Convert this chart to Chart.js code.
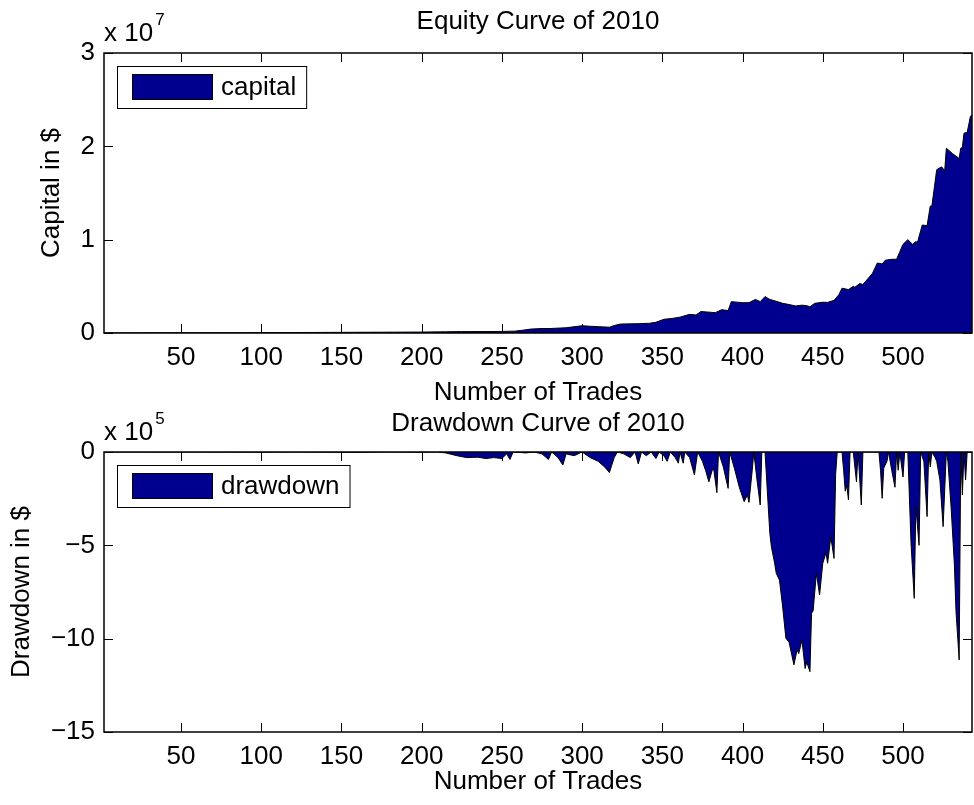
<!DOCTYPE html>
<html>
<head>
<meta charset="utf-8">
<script src="https://cdn.jsdelivr.net/npm/chart.js@4.4.1/dist/chart.umd.min.js"></script>
<style>
  body { margin: 0; background: #fff; }
  #wrap { position: relative; width: 974px; height: 805px; }
  canvas { position: absolute; left: 0; }
</style>
</head>
<body>
<div id="wrap">
  <canvas id="equity" width="974" height="420" style="top:0"></canvas>
  <canvas id="drawdown" width="974" height="405" style="top:400px"></canvas>
</div>
<script>
// trade number -> capital in $
const capTrades = [2, 30, 60, 90, 120, 150, 175, 200, 215, 225, 240, 250, 258, 263, 268, 275, 280, 290, 300, 305,
  310, 317, 320, 324, 335, 342, 346, 351, 356, 361, 367, 371, 374, 383, 387, 391, 393, 400, 404, 408,
  411, 414, 417, 420, 425, 429, 433, 437, 440, 442, 445, 450, 453, 457, 460, 462, 466, 469, 470, 473,
  475, 479, 481, 484, 487, 489, 493, 496, 500, 503, 506, 508, 509, 512, 515, 517, 518, 521, 524, 526,
  527, 531, 535, 536, 537, 538, 540, 542, 543];
const capital = [10000, 14000, 22000, 35000, 50000, 70000, 85000, 100000, 130000, 150000, 155000, 170000, 200000, 300000, 420000, 480000, 480000, 560000, 780000, 720000,
  680000, 620000, 800000, 960000, 1000000, 1040000, 1150000, 1470000, 1560000, 1700000, 2000000, 1930000, 2300000, 2180000, 2500000, 2400000, 3360000, 3250000, 3250000, 3600000,
  3360000, 3900000, 3600000, 3450000, 3180000, 3050000, 2900000, 2980000, 2930000, 2800000, 3180000, 3300000, 3280000, 3500000, 4100000, 4800000, 4650000, 5000000, 4900000, 5300000,
  5200000, 6000000, 6400000, 7500000, 7400000, 7800000, 7900000, 7900000, 9500000, 10000000, 9500000, 9800000, 9700000, 11570000, 11500000, 13600000, 13600000, 17500000, 17800000, 17400000,
  19800000, 19200000, 18700000, 19800000, 19900000, 21400000, 21500000, 23200000, 23400000];

// trade number -> drawdown in $
const ddTrades = [2, 40, 60, 100, 120, 160, 180, 200, 210, 215, 222, 228, 235, 240, 245, 250, 253, 255, 257, 265,
  270, 275, 279, 281, 285, 288, 290, 295, 300, 305, 310, 314, 317, 320, 322, 326, 330, 333, 335, 337,
  340, 343, 346, 348, 351, 353, 355, 358, 360, 361, 363, 364, 367, 370, 372, 375, 377, 379, 381, 382,
  384, 385, 388, 391, 392, 395, 398, 401, 403, 404, 406, 407, 409, 411, 412, 414, 417, 418, 420, 421,
  423, 425, 427, 429, 432, 434, 435, 437, 439, 440, 442, 443, 444, 446, 448, 450, 452, 453, 455, 457,
  458, 459, 462, 463, 464, 465, 466, 467, 469, 471, 472, 474, 475, 485, 486, 487, 488, 490, 491, 493,
  495, 496, 497, 498, 500, 501, 503, 505, 507, 508, 510, 511, 513, 515, 516, 517, 518, 520, 521, 523,
  525, 527, 528, 530, 532, 533, 535, 536, 537, 538, 539, 540, 543];
const drawdown = [0, -500, 0, -1000, 0, -2000, 0, -1000, 0, -5000, -20000, -30000, -28000, -35000, -30000, -35000, -10000, -40000, 0, -5000,
  0, -10000, -40000, 0, -30000, -70000, -10000, -20000, 0, -30000, -50000, -80000, -110000, -30000, 0, -10000, -30000, 0, -64000, 0,
  -20000, 0, -35000, 0, -20000, -50000, 0, -30000, -60000, 0, -60000, 0, -30000, -123000, 0, -50000, -100000, -160000, -100000, -90000,
  -218000, 0, -80000, -195000, 0, -90000, -190000, -266000, -230000, -270000, -100000, 0, -150000, -284000, 0, 0, -436000, -510000, -596000, -650000,
  -686000, -830000, -998000, -1020000, -1140000, -1060000, -1080000, -1007000, -1160000, -1125000, -1177000, -864000, -850000, -650000, -766000, -596000, -540000, -596000, -454000, -570000,
  -120000, 0, 0, -100000, -210000, -180000, -257000, 0, 0, -160000, 0, -284000, 0, 0, -100000, -248000, -86000, -50000, 0, -100000,
  -189000, 0, -98000, 0, -134000, 0, 0, -490000, -784000, -290000, -500000, 0, -50000, -346000, 0, -80000, 0, -30000, -50000, -150000,
  -400000, 0, -50000, -300000, -600000, -850000, -1114000, 0, -230000, 0, -150000, 0, 0];

const FAMILY = '"Liberation Sans", Arial, Helvetica, sans-serif';
const FILL = '#00008f';
const SIZE = 26;
Chart.defaults.color = '#000';
Chart.defaults.font.family = FAMILY;

// MATLAB-ish decorations: inward ticks, box, title, exponent, boxed legend
const matlabAxes = {
  id: 'matlabAxes',
  beforeDatasetsDraw(chart) {
    const { ctx, chartArea: a, scales: { x, y } } = chart;
    ctx.save();
    ctx.strokeStyle = '#000';
    ctx.lineWidth = 1;
    ctx.beginPath();
    x.ticks.forEach(t => {
      const px = Math.round(x.getPixelForValue(t.value)) + 0.5;
      ctx.moveTo(px, a.bottom); ctx.lineTo(px, a.bottom - 9);
      ctx.moveTo(px, a.top); ctx.lineTo(px, a.top + 9);
    });
    y.ticks.forEach(t => {
      const py = Math.round(y.getPixelForValue(t.value)) + 0.5;
      ctx.moveTo(a.left, py); ctx.lineTo(a.left + 9, py);
      ctx.moveTo(a.right, py); ctx.lineTo(a.right - 9, py);
    });
    ctx.stroke();
    ctx.restore();
  },
  afterDraw(chart, args, o) {
    const { ctx, chartArea: a } = chart;
    ctx.save();
    ctx.strokeStyle = '#000';
    ctx.lineWidth = 1.5;
    ctx.strokeRect(a.left, a.top, a.right - a.left, a.bottom - a.top);

    ctx.fillStyle = '#000';
    ctx.textBaseline = 'alphabetic';
    ctx.font = SIZE + 'px ' + FAMILY;
    ctx.textAlign = 'center';
    ctx.fillText(o.title, (a.left + a.right) / 2, o.titleY);

    ctx.textAlign = 'left';
    ctx.fillText('x 10', a.left, o.expY);
    const w = ctx.measureText('x 10').width;
    ctx.font = '17px ' + FAMILY;
    ctx.fillText(o.exp, a.left + w + 2, o.expY - 16);

    // legend
    const ds = chart.data.datasets[0];
    ctx.font = SIZE + 'px ' + FAMILY;
    const lx = a.left + 13, ly = a.top + 13, lh = 42;
    const tw = ctx.measureText(ds.label).width;
    const lw = 104 + tw + 10;
    ctx.fillStyle = '#fff';
    ctx.fillRect(lx, ly, lw, lh);
    ctx.lineWidth = 1;
    ctx.strokeRect(lx + 0.5, ly + 0.5, lw, lh);
    ctx.fillStyle = ds.backgroundColor;
    ctx.fillRect(lx + 15.5, ly + 8.5, 80, 25);
    ctx.strokeRect(lx + 15.5, ly + 8.5, 80, 25);
    ctx.fillStyle = '#000';
    ctx.textBaseline = 'middle';
    ctx.fillText(ds.label, lx + 104, ly + 22);
    ctx.restore();
  }
};

function makeChart(id, trades, values, label, cfg) {
  const points = trades.map((t, i) => ({ x: t, y: values[i] }));
  return new Chart(document.getElementById(id), {
    type: 'line',
    data: {
      datasets: [{
        label: label,
        data: points,
        fill: 'origin',
        backgroundColor: FILL,
        borderColor: '#000',
        borderWidth: 1,
        pointRadius: 0,
        tension: 0
      }]
    },
    options: {
      responsive: false,
      animation: false,
      devicePixelRatio: 1,
      layout: { padding: { top: cfg.top, right: 2, left: 0, bottom: 0 } },
      plugins: {
        legend: { display: false },
        title: { display: false },
        tooltip: { enabled: false },
        matlabAxes: cfg.deco
      },
      scales: {
        x: {
          type: 'linear',
          min: 2,
          max: 543,
          grid: { display: false, drawTicks: false },
          border: { display: false },
          ticks: { stepSize: 50, includeBounds: false, autoSkip: false, maxRotation: 0, padding: 9, font: { size: SIZE } },
          title: { display: true, text: 'Number of Trades', font: { size: SIZE }, padding: { top: 0, bottom: cfg.xTitlePad } },
          afterFit: s => { s.height = cfg.xHeight; }
        },
        y: {
          min: cfg.yMin,
          max: cfg.yMax,
          grid: { display: false, drawTicks: false },
          border: { display: false },
          ticks: { stepSize: cfg.yStep, padding: 9, font: { size: SIZE }, callback: cfg.yLabel },
          title: { display: true, text: cfg.yTitle, font: { size: SIZE }, padding: { top: cfg.yTitlePad, bottom: 0 } },
          afterFit: s => { s.width = 104; }
        }
      }
    },
    plugins: [matlabAxes]
  });
}

makeChart('equity', capTrades, capital, 'capital', {
  top: 53, xHeight: 87, xTitlePad: 12,
  yMin: 0, yMax: 30000000, yStep: 10000000,
  yLabel: v => String(v / 10000000),
  yTitle: 'Capital in $', yTitlePad: 36,
  deco: { title: 'Equity Curve of 2010', titleY: 29, expY: 41, exp: '7' }
});

makeChart('drawdown', ddTrades, drawdown, 'drawdown', {
  top: 52, xHeight: 73, xTitlePad: 8,
  yMin: -1500000, yMax: 0, yStep: 500000,
  yLabel: v => String(v / 100000).replace('-', '\u2212'),
  yTitle: 'Drawdown in $', yTitlePad: 6,
  deco: { title: 'Drawdown Curve of 2010', titleY: 31, expY: 40, exp: '5' }
});
</script>
</body>
</html>
